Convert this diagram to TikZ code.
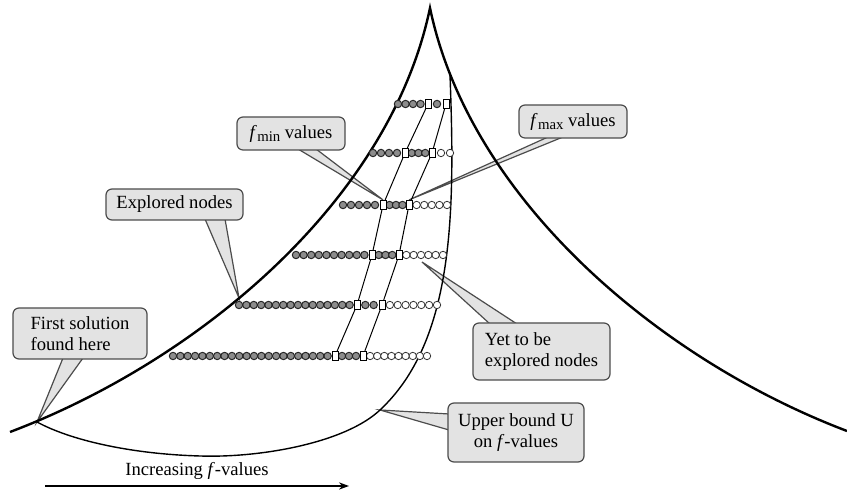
\documentclass[tikz,border=0pt]{standalone}
\usepackage{fontspec}
\setmainfont{Liberation Serif}
\usetikzlibrary{backgrounds,arrows.meta}
\newcommand\fsub[1]{\textit{f}\kern.2pt\raisebox{-.45ex}{\fontsize{7.4}{8}\selectfont #1}}
\tikzset{
  callbox/.style={draw=black!70,fill=black!11,line width=.6pt,rounded corners=3pt,inner sep=0pt},
  callptr/.style={draw=black!70,fill=black!11,line width=.6pt},
  doneball/.style={circle,draw=black!85,fill=black!45,line width=.5pt,minimum size=3.7pt,inner sep=0pt},
  openball/.style={circle,draw=black!80,fill=white,line width=.4pt,minimum size=3.7pt,inner sep=0pt},
  valbox/.style={rectangle,draw=black,fill=white,line width=.5pt,minimum width=3pt,minimum height=4.6pt,inner sep=0pt},
  bound/.style={line width=1.2pt},
  ubound/.style={line width=.7pt},
  valline/.style={line width=.5pt}
}
\begin{document}
\begin{tikzpicture}[x=.5pt,y=-.5pt,font=\fontsize{9.3}{10.5}\selectfont]
\useasboundingbox (0,0) rectangle (847,490);
% search space and upper bound
\draw[bound] (10,432) .. controls (200,360) and (390,200) .. (430,8)
  .. controls (470,200) and (660,360) .. (847,431);
\draw[ubound] (450,75) .. controls (455,210) and (455,340) .. (380,410)
  .. controls (345,443) and (260,458) .. (200,456)
  .. controls (130,454) and (70,440) .. (37,422);
\coordinate (firstsol) at (37,422);
\coordinate (uptip) at (380,410);
\coordinate (exptip) at (239,298);
\coordinate (yettip) at (422,262);
% rows of nodes: y / first / fmin / fmax / last
\foreach \y/\s/\a/\b/\e [count=\r] in {104/398/428/446/446,153/373/405/432/450,
    205/343/383/409/447,255/296/372/399/443,305/239/357/382/437,356/173/335/363/427} {
  \pgfmathtruncatemacro\na{round((\a-\s)/7.4)}
  \pgfmathsetmacro\da{(\a-\s)/\na}
  \foreach \i in {1,...,\na}
    \node[doneball] (old\r-\i) at ({\s+(\i-1)*\da},\y) {};
  \pgfmathtruncatemacro\nb{round((\b-\a)/7.4)}
  \pgfmathsetmacro\db{(\b-\a)/\nb}
  \ifnum\nb>1
    \foreach \i in {2,...,\nb}
      \node[doneball] (mid\r-\i) at ({\a+(\i-1)*\db},\y) {};
  \fi
  \pgfmathtruncatemacro\nc{round((\e-\b)/7.4)}
  \ifnum\nc>0
    \pgfmathsetmacro\dc{(\e-\b)/\nc}
    \foreach \i in {1,...,\nc}
      \node[openball] (new\r-\i) at ({\b+\i*\dc},\y) {};
  \fi
  \node[valbox] (fmin\r) at (\a,\y) {};
  \node[valbox] (fmax\r) at (\b,\y) {};
}
\draw[valline] (fmin1) -- (fmin2) -- (fmin3) -- (fmin4) -- (fmin5) -- (fmin6);
\draw[valline] (fmax1) -- (fmax2) -- (fmax3) -- (fmax4) -- (fmax5) -- (fmax6);
% callouts
\node[callbox,minimum width=54pt,minimum height=16.5pt] (minlbl) at (291,133.5) {\fsub{min} values};
\node[callbox,minimum width=54pt,minimum height=16.5pt] (maxlbl) at (573,121.5) {\fsub{max} values};
\node[callbox,minimum width=68.5pt,minimum height=15.5pt] (explbl) at (174.5,204.5) {Explored nodes};
\node[callbox,minimum width=67pt,minimum height=25.5pt,align=left] (firstlbl) at (80,333.5) {First solution\\found here};
\node[callbox,minimum width=68.5pt,minimum height=28.5pt,align=left] (yetlbl) at (541.5,351.5) {Yet to be\\explored nodes};
\node[callbox,minimum width=68pt,minimum height=29.5pt,align=center] (ublbl) at (516,432.5) {Upper bound U\\on \textit{f}-values};
\begin{pgfonlayer}{background}
  \filldraw[callptr] ([xshift=3.5pt,yshift=.8pt]minlbl.south) -- (fmin3.north) -- ([xshift=12.5pt,yshift=.8pt]minlbl.south) -- cycle;
  \filldraw[callptr] ([xshift=-12.5pt,yshift=.8pt]maxlbl.south) -- (fmax3.north) -- ([xshift=-5pt,yshift=.8pt]maxlbl.south) -- cycle;
  \filldraw[callptr] ([xshift=15.25pt,yshift=.8pt]explbl.south) -- (exptip) -- ([xshift=25.25pt,yshift=.8pt]explbl.south) -- cycle;
  \filldraw[callptr] ([xshift=-8.5pt,yshift=.8pt]firstlbl.south) -- (firstsol) -- ([xshift=1.5pt,yshift=.8pt]firstlbl.south) -- cycle;
  \filldraw[callptr] ([xshift=-25.75pt,yshift=-.8pt]yetlbl.north) -- (yettip) -- ([xshift=-12.25pt,yshift=-.8pt]yetlbl.north) -- cycle;
  \filldraw[callptr] ([xshift=.8pt,yshift=9.25pt]ublbl.west) -- (uptip) -- ([xshift=.8pt,yshift=1.25pt]ublbl.west) -- cycle;
\end{pgfonlayer}
% direction of f
\coordinate (fleft) at (45,486);
\coordinate (fright) at (349,486);
\draw[-{Stealth[length=5pt,width=3.6pt]},line width=.7pt] (fleft) -- (fright)
  node[midway,above=-.5pt] (incr) {Increasing \textit{f}-values};
\end{tikzpicture}
\end{document}
